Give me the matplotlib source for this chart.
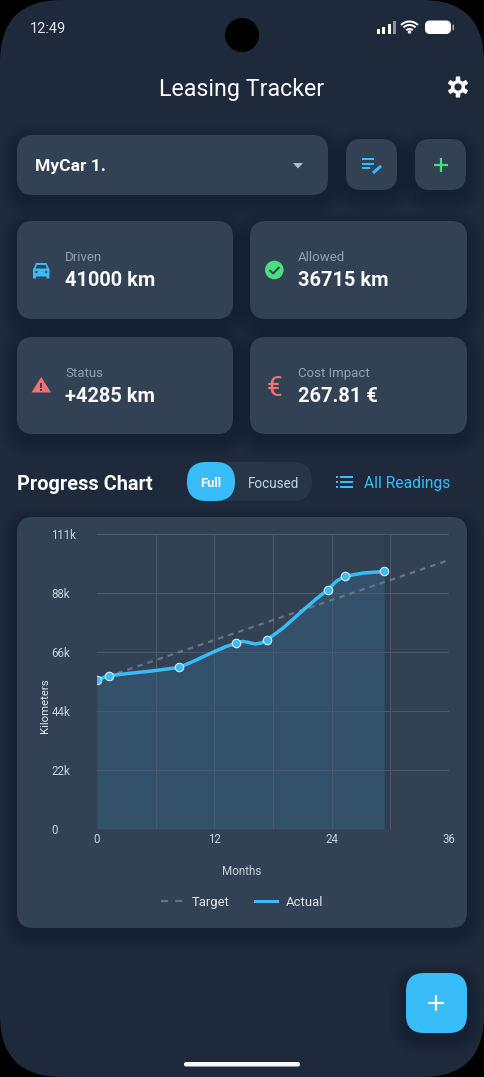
import numpy as np
import matplotlib
matplotlib.use('Agg')
import matplotlib.pyplot as plt
from matplotlib.patches import FancyBboxPatch, Circle, Polygon
from matplotlib.lines import Line2D

plt.rcParams['font.family'] = ['Roboto', 'DejaVu Sans']

# chart values
reading_months = [0, 1.2, 8.4, 14.2, 17.4, 23.6, 25.4, 29.4]
reading_km = [56100, 57700, 60800, 69900, 71200, 90000, 95100, 96900]
curve_months = [0, 1.2, 3.4, 5.7, 8.4, 9.8, 11.9, 13.1, 14.2, 14.9, 15.5, 16.2, 16.8,
                17.4, 19.0, 21.1, 22.4, 23.6, 24.5, 25.4, 27.2, 29.4]
curve_km = [56100, 57700, 58600, 59500, 60800, 63000, 66600, 68500, 69900, 70600, 70200, 69600, 70000,
            71200, 75500, 82400, 86500, 90000, 93300, 95100, 96300, 96900]
target_months = [0, 36]
target_km = [56000, 101200]
x_ticks = [0, 6, 12, 18, 24, 30, 36]
x_labels = ['0', '', '12', '', '24', '', '36']
y_ticks = [0, 22200, 44400, 66600, 88800, 111000]
y_labels = ['0', '22k', '44k', '66k', '88k', '111k']

BG = '#1e293b'
CARD = '#334155'
BLUE = '#38bdf8'
GREEN = '#4ade80'
RED = '#f87171'
GREY = '#94a3b8'
WHITE = '#f8fafc'

W, H = 484, 1077
fig = plt.figure(figsize=(W / 100, H / 100), dpi=100, facecolor='black')

# whole screen drawn in pixel coordinates
ui = fig.add_axes([0, 0, 1, 1])
ui.set_xlim(0, W)
ui.set_ylim(H, 0)
ui.axis('off')


def rrect(x0, y0, x1, y1, r, color, **kw):
    p = FancyBboxPatch((x0 + r, y0 + r), x1 - x0 - 2 * r, y1 - y0 - 2 * r,
                       boxstyle='round,pad=%f,rounding_size=%f' % (r, r),
                       fc=color, ec='none', **kw)
    ui.add_patch(p)


def shadow(x0, y0, x1, y1, r=16):
    for i in range(9, 0, -1):
        g = i * 1.8
        rrect(x0 - g, y0 - g + 6, x1 + g, y1 + g + 6, r + g, '#0f172a', alpha=0.05)


def seg(xs, ys, color, lw, **kw):
    ui.plot(xs, ys, color=color, lw=lw * 0.72, solid_capstyle=kw.pop('cap', 'butt'),
            solid_joinstyle='round', **kw)


def txt(x, y, s, size, color=WHITE, weight='normal', ha='left', **kw):
    ui.text(x, y, s, fontsize=size * 0.72, color=color, fontweight=weight, ha=ha, va='center_baseline', **kw)


rrect(0, 0, W, H, 62, BG)

# status bar
ui.add_patch(Circle((242, 35), 17, fc='black', ec='none'))
txt(30, 27.5, '12:49', 14.5, '#e2e8f0')
for bx, bh, col in zip([376.5, 382, 387.5, 392.5], [5, 7.5, 10.5, 13], ['white', 'white', 'white', '#8a94a3']):
    ui.add_patch(plt.Rectangle((bx, 34 - bh), 3, bh, fc=col, ec='none'))
for rad in [4.5, 8.5, 12]:
    t = np.radians(np.linspace(225, 315, 24))
    seg(409.5 + rad * np.cos(t), 33.5 + rad * np.sin(t), 'white', 2)
ui.add_patch(Circle((409.5, 32), 1.7, fc='white', ec='none'))
rrect(425, 20.5, 451, 34, 5, 'white')
rrect(452.5, 24.5, 454, 30.5, 0.7, '#aab2bd')

# app bar
txt(242, 87, 'Leasing Tracker', 23.3, ha='center')
a = np.radians(np.arange(0, 360, 1.0))
gear_r = 8 + 2.6 * np.clip(1.8 * np.cos(6 * (a - np.pi / 2)) + 0.3, -0.4, 1)
ui.add_patch(Polygon(np.c_[458 + gear_r * np.cos(a), 87 + gear_r * np.sin(a)], fc='white', ec='none'))
ui.add_patch(Circle((458, 87), 3.6, fc=BG, ec='none'))

# shadows first so they never fall on a neighbour
boxes = [(17, 135, 328, 195, 16), (346, 139, 397, 190, 15), (415, 139, 466, 190, 15),
         (17, 221, 233, 319, 16), (250, 221, 467, 319, 16),
         (17, 337, 233, 434, 16), (250, 337, 467, 434, 16), (17, 517, 467, 928, 16)]
for b in boxes:
    shadow(*b)
for b in boxes:
    rrect(*b, CARD)

# car selector and buttons
txt(35, 165, 'MyCar 1.', 17.5, weight='bold')
ui.add_patch(Polygon([(293, 163), (303, 163), (298, 168.5)], fc='#b4bcc8', ec='none'))
seg([362, 374], [159, 159], BLUE, 2)
seg([362, 374], [163.5, 163.5], BLUE, 2)
seg([362, 370], [168, 168], BLUE, 2)
seg([373, 381], [173, 166], BLUE, 3)
seg([434, 448], [165, 165], GREEN, 2.2)
seg([441, 441], [158, 172], GREEN, 2.2)

# stat cards
txt(65, 256, 'Driven', 13.3, GREY)
txt(65, 279, '41000 km', 20, weight='bold')
txt(298, 256, 'Allowed', 13.3, GREY)
txt(298, 279, '36715 km', 20, weight='bold')
txt(65, 372, 'Status', 13.3, GREY)
txt(65, 395, '+4285 km', 20, weight='bold')
txt(298, 372, 'Cost Impact', 13.3, GREY)
txt(298, 395, '267.81 \u20ac', 20, weight='bold')

# car icon
rrect(33, 268, 49.5, 276.5, 1.5, BLUE)
ui.add_patch(Polygon([(36, 263), (46.5, 263), (49, 269), (33.5, 269)], fc=BLUE, ec='none'))
ui.add_patch(Polygon([(37, 265), (45.5, 265), (47, 268.5), (35.5, 268.5)], fc=CARD, ec='none'))
ui.add_patch(Circle((36.5, 272), 1.2, fc=CARD, ec='none'))
ui.add_patch(Circle((46, 272), 1.2, fc=CARD, ec='none'))
rrect(33, 276, 36, 278.5, 0.5, BLUE)
rrect(46.5, 276, 49.5, 278.5, 0.5, BLUE)

# check icon
ui.add_patch(Circle((274.3, 270), 9.3, fc=GREEN, ec='none'))
seg([269.5, 273, 279.5], [270, 273.5, 267], CARD, 2)

# warning icon
ui.add_patch(Polygon([(31.5, 392.5), (51, 392.5), (41.2, 377)], fc=RED, ec='none'))
seg([41.2, 41.2], [383, 388], CARD, 2)
seg([41.2, 41.2], [389.3, 391.3], CARD, 2)

# euro icon
txt(274.5, 385.5, '\u20ac', 28, RED, ha='center')

# section header
txt(17, 482, 'Progress Chart', 20, weight='bold')
rrect(186, 462, 312, 501, 19.5, '#273548')
rrect(187, 462, 235, 501, 19.5, BLUE)
txt(211, 482, 'Full', 13, weight='bold', ha='center')
txt(273.5, 482, 'Focused', 13.5, '#cbd5e1', ha='center')
for ly in [477, 482, 487]:
    seg([336, 338], [ly, ly], BLUE, 2)
    seg([340, 352.5], [ly, ly], BLUE, 2)
txt(364, 482, 'All Readings', 15.6, BLUE)

# fab and home bar
shadow(406, 973, 467, 1033, 18)
rrect(406, 973, 467, 1033, 18, BLUE)
seg([428, 444], [1003, 1003], 'white', 2.2)
seg([436, 436], [995, 1011], 'white', 2.2)
rrect(184, 1062, 300, 1066.5, 2, WHITE)

# chart
ax = fig.add_axes([97 / W, 1 - 829 / H, 352 / W, 295 / H], zorder=2)
ax.patch.set_visible(False)
ax.set_xlim(0, 36)
ax.set_ylim(0, 111000)
ax.fill_between(curve_months, curve_km, 0, color=BLUE, alpha=0.13, lw=0, zorder=1)
ax.axvspan(curve_months[-1], 29.95, color='#1e293b', alpha=0.15, lw=0, zorder=1)
ax.plot(target_months, target_km, color='#667487', lw=1.6, ls=(0, (2.5, 2.3)), zorder=3)
ax.plot(curve_months, curve_km, color=BLUE, lw=2.5, solid_joinstyle='round', zorder=4)
ax.plot(reading_months, reading_km, ls='none', marker='o', ms=6.1, mfc=BLUE, mec='#e2e8f0', mew=0.8, zorder=5)

ax.set_xticks(x_ticks, x_labels)
ax.set_yticks(y_ticks, y_labels)
ax.grid(True, color='#4b5a6f', lw=0.7, zorder=2)
ax.set_axisbelow(False)
ax.xaxis.get_gridlines()[0].set_visible(False)
ax.xaxis.get_gridlines()[-1].set_visible(False)
ax.yaxis.get_gridlines()[0].set_visible(False)
for s in ax.spines.values():
    s.set_visible(False)
ax.tick_params(axis='both', length=0, labelsize=8.3, labelcolor='#cbd5e1')
ax.tick_params(axis='x', pad=3)
ax.tick_params(axis='y', pad=32.8)
for lab in ax.get_yticklabels():
    lab.set_ha('left')
ax.set_ylabel('Kilometers', fontsize=8.2, color='#e2e8f0')
ax.yaxis.set_label_coords(-47 / 352, 123 / 295)
ax.set_xlabel('Months', fontsize=8.4, color='#cbd5e1')
ax.xaxis.set_label_coords(145 / 352, -36 / 295)

handles = [Line2D([], [], color='#64748b', lw=1.6, ls=(0, (3.2, 3.2))),
           Line2D([], [], color=BLUE, lw=2.2)]
ax.legend(handles, ['Target', 'Actual'], loc='center', bbox_to_anchor=(0.5, 1 - 902.5 / H),
          bbox_transform=fig.transFigure, ncol=2, frameon=False, fontsize=9.4,
          labelcolor='#e2e8f0', handlelength=1.7, handletextpad=0.7, columnspacing=1.9)

fig.savefig('out.png', dpi=100, facecolor='black')
